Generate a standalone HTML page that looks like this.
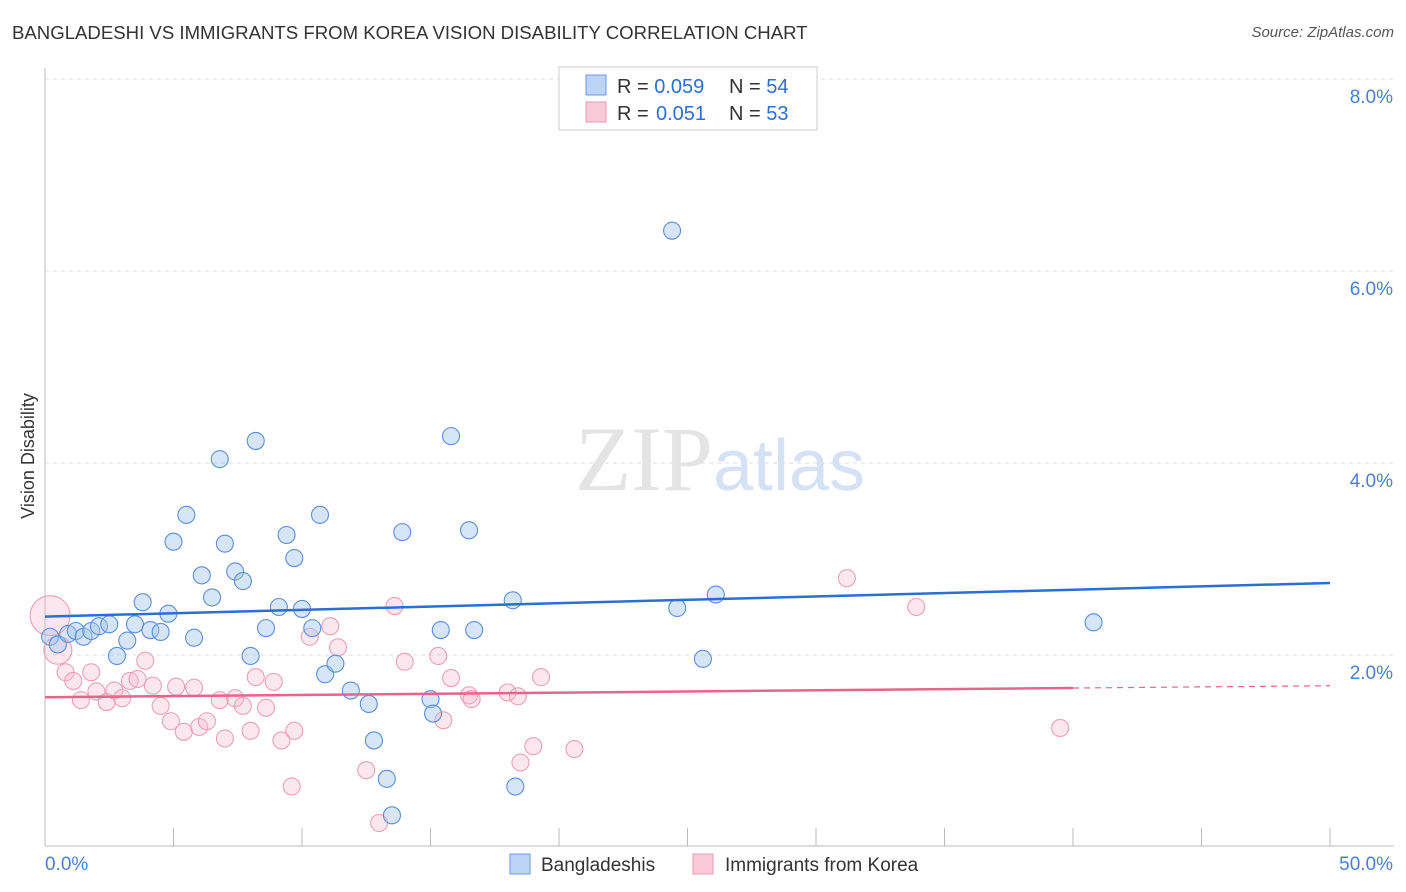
<!DOCTYPE html>
<html><head><meta charset="utf-8"><style>
body{margin:0;background:#fff;font-family:"Liberation Sans",sans-serif;}
#wrap{position:relative;width:1406px;height:892px;overflow:hidden;}
.t{position:absolute;white-space:nowrap;}
</style></head><body>
<div id="wrap">
<div class="t" style="left:12px;top:22px;font-size:18.6px;color:#333;">BANGLADESHI VS IMMIGRANTS FROM KOREA VISION DISABILITY CORRELATION CHART</div>
<div class="t" style="right:12px;top:24px;font-size:15px;color:#555;font-style:italic;">Source: ZipAtlas.com</div>
<svg id="svg" width="1406" height="892" style="position:absolute;left:0;top:0"></svg>
</div>
<script>
const yTicks=[2,4,6,8];
const yTickLabels=["2.0%","4.0%","6.0%","8.0%"];
const xTickLabels=["0.0%","50.0%"];
const blueX=[0.2,0.5,0.9,1.2,1.5,1.8,2.1,2.5,2.8,3.2,3.5,3.8,4.1,4.5,4.8,5.0,5.5,5.8,6.1,6.5,6.8,7.0,7.4,7.7,8.0,8.2,8.6,9.1,9.4,9.7,10.0,10.4,10.7,10.9,11.3,11.9,12.6,12.8,13.3,13.5,13.9,15.0,15.1,15.4,15.8,16.5,16.7,18.2,18.3,24.4,24.6,25.6,26.1,40.8];
const blueY=[2.19,2.11,2.22,2.25,2.19,2.25,2.30,2.32,1.99,2.15,2.32,2.55,2.26,2.24,2.43,3.18,3.46,2.18,2.83,2.60,4.04,3.16,2.87,2.77,1.99,4.23,2.28,2.50,3.25,3.01,2.48,2.28,3.46,1.80,1.91,1.63,1.49,1.11,0.71,0.33,3.28,1.54,1.39,2.26,4.28,3.30,2.26,2.57,0.63,6.42,2.49,1.96,2.63,2.34];
const pinkX=[0.2,0.5,0.8,1.1,1.4,1.8,2.0,2.4,2.7,3.0,3.3,3.6,3.9,4.2,4.5,4.9,5.1,5.4,5.8,6.0,6.3,6.8,7.0,7.4,7.7,8.0,8.2,8.6,8.9,9.2,9.7,9.6,10.3,11.1,11.4,12.5,13.0,13.6,14.0,15.3,15.5,15.8,16.5,16.6,18.0,18.4,18.5,19.0,19.3,20.6,31.2,33.9,39.5];
const pinkY=[2.41,2.05,1.82,1.73,1.53,1.82,1.62,1.51,1.63,1.55,1.73,1.75,1.94,1.68,1.47,1.31,1.67,1.20,1.66,1.25,1.31,1.53,1.13,1.55,1.47,1.21,1.77,1.45,1.72,1.11,1.21,0.63,2.19,2.30,2.08,0.80,0.25,2.51,1.93,1.99,1.32,1.76,1.58,1.54,1.61,1.57,0.88,1.05,1.77,1.02,2.80,2.50,1.24];
const pinkR=[20,14];
const blueTrend=[2.40,2.75];
const pinkTrend=[1.56,1.68];
const X0=45,X1=1330,Y0=847,YS=96;
const sx=v=>X0+(v/50)*(X1-X0);
const sy=v=>Y0-v*YS;
const svg=document.getElementById('svg');
const NS='http://www.w3.org/2000/svg';
function mk(tag,attrs,name,parent){const e=document.createElementNS(NS,tag);for(const k in attrs)e.setAttribute(k,attrs[k]);


(parent||svg).appendChild(e);return e;}
mk('line',{x1:45,y1:68,x2:45,y2:846,stroke:'#bbb','stroke-width':1},'y-axis');
mk('line',{x1:45,y1:846,x2:1394,y2:846,stroke:'#bbb','stroke-width':1},'x-axis');
yTicks.forEach((v,i)=>{mk('line',{x1:45,y1:sy(v),x2:1394,y2:sy(v),stroke:'#ddd','stroke-dasharray':'4,4'},'gridline');
const t=mk('text',{x:1393,y:sy(v)+24,'text-anchor':'end','font-size':19,fill:'#4a7fd4','font-family':'Liberation Sans'},'y-tick-label');t.textContent=yTickLabels[i];});
for(let i=1;i<=10;i++){const x=X0+i*(X1-X0)/10;mk('line',{x1:x,y1:828,x2:x,y2:846,stroke:'#bbb'},'x-tick');}
const wm=mk('text',{x:720,y:490,'text-anchor':'middle','font-size':92,fill:'#e4e4e4','font-family':'Liberation Serif'},'watermark');
wm.innerHTML='ZIP<tspan fill="#d5e2f5" font-family="Liberation Sans" font-size="72">atlas</tspan>';
const xl0=mk('text',{x:45,y:870,'font-size':19,fill:'#4a7fd4','font-family':'Liberation Sans'},'x-tick-label');xl0.textContent=xTickLabels[0];
const xl1=mk('text',{x:1393,y:870,'text-anchor':'end','font-size':19,fill:'#4a7fd4','font-family':'Liberation Sans'},'x-tick-label');xl1.textContent=xTickLabels[1];
const yt=mk('text',{x:34,y:456,'text-anchor':'middle','font-size':18,fill:'#333',transform:'rotate(-90 34 456)','font-family':'Liberation Sans'},'y-axis-title');yt.textContent='Vision Disability';
pinkX.forEach((v,i)=>mk('circle',{cx:sx(v),cy:sy(pinkY[i]),r:pinkR[i]||8.5,fill:'rgba(248,185,205,0.35)',stroke:'#eb9fb6','stroke-width':1.1},'korea-point'));
blueX.forEach((v,i)=>mk('circle',{cx:sx(v),cy:sy(blueY[i]),r:8.5,fill:'rgba(165,198,240,0.45)',stroke:'#5a8fd8','stroke-width':1.1},'bangladeshi-point'));
mk('line',{x1:sx(0),y1:sy(blueTrend[0]),x2:sx(50),y2:sy(blueTrend[1]),stroke:'#2a6fd4','stroke-width':2.5},'bangladeshi-trendline');
const pm=pinkTrend[0]+(pinkTrend[1]-pinkTrend[0])*0.8;
mk('line',{x1:sx(0),y1:sy(pinkTrend[0]),x2:sx(40),y2:sy(pm),stroke:'#e8648c','stroke-width':2.5},'korea-trendline');
mk('line',{x1:sx(40),y1:sy(pm),x2:sx(50),y2:sy(pinkTrend[1]),stroke:'#e8648c','stroke-width':1.2,'stroke-dasharray':'6,5'},'korea-trendline-extension');
mk('rect',{x:559,y:67,width:258,height:63,fill:'#fff',stroke:'#ccc'},'stats-legend');
mk('rect',{x:586,y:75,width:20,height:20,fill:'#bcd4f5',stroke:'#6a9ae0'},'legend-swatch-blue');
mk('rect',{x:586,y:102,width:20,height:20,fill:'#fbcad8',stroke:'#e89ab2'},'legend-swatch-pink');
const l1=mk('text',{x:617,y:93,'font-size':20,fill:'#333','font-family':'Liberation Sans'},'legend-stats-blue');
l1.innerHTML='R = <tspan fill="#2a6fd4">0.059</tspan>  <tspan x="729">N = </tspan><tspan fill="#2a6fd4">54</tspan>';
const l2=mk('text',{x:617,y:120,'font-size':20,fill:'#333','font-family':'Liberation Sans'},'legend-stats-pink');
l2.innerHTML='R = <tspan fill="#2a6fd4" x="656">0.051</tspan><tspan x="729">N = </tspan><tspan fill="#2a6fd4">53</tspan>';
mk('rect',{x:510,y:854,width:20,height:20,fill:'#bcd4f5',stroke:'#6a9ae0'},'bottom-legend-swatch-blue');
const b1=mk('text',{x:541,y:871,'font-size':19,fill:'#333','font-family':'Liberation Sans'},'legend-entry-bangladeshis');b1.textContent='Bangladeshis';
mk('rect',{x:693,y:854,width:20,height:20,fill:'#fbcad8',stroke:'#e89ab2'},'bottom-legend-swatch-pink');
const b2=mk('text',{x:725,y:871,'font-size':19,fill:'#333','font-family':'Liberation Sans'},'legend-entry-korea');b2.textContent='Immigrants from Korea';
</script>
</body></html>
